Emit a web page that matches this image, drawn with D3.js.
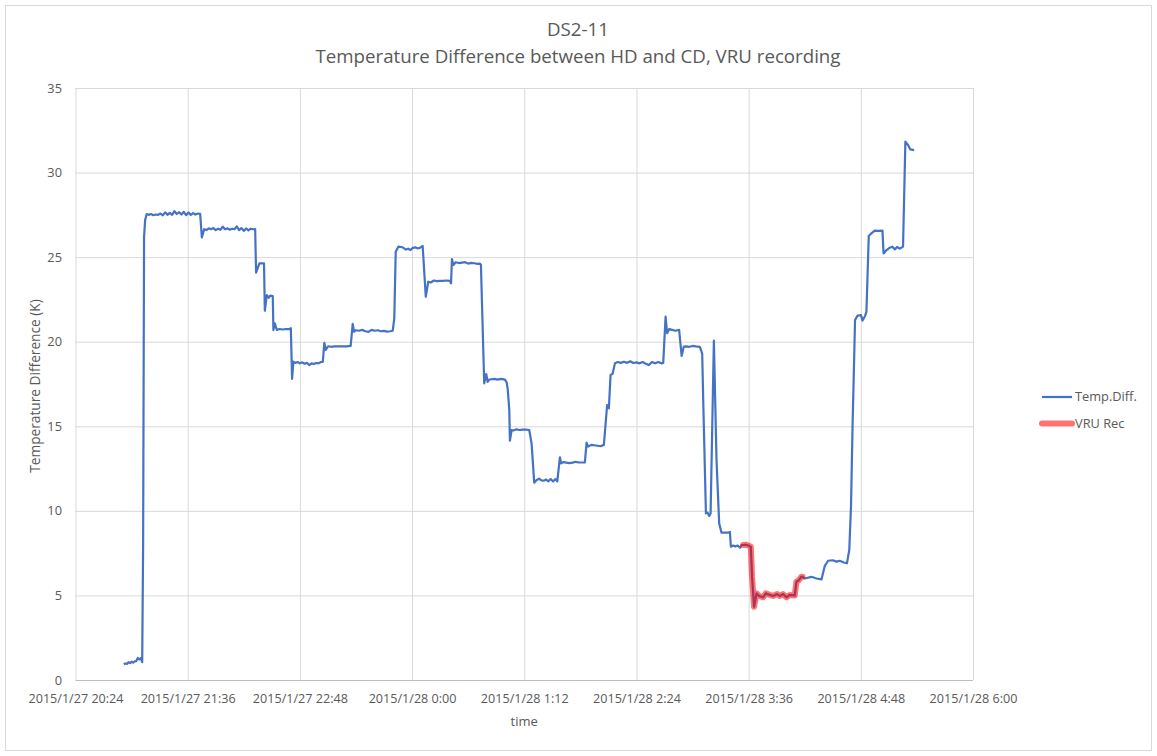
<!DOCTYPE html>
<html>
<head>
<meta charset="utf-8">
<script src="https://cdn.jsdelivr.net/npm/d3@7"></script>
<style>
  body { margin: 0; background: #fff; }
  text { font-family: "Open Sans", "DejaVu Sans", sans-serif; fill: #595959; }
</style>
</head>
<body>
<div id="chart"></div>
<script>
// chart texts
const titleLines = ["DS2-11", "Temperature Difference between HD and CD, VRU recording"];
const yTitle = "Temperature Difference (K)";
const xTitle = "time";
const seriesNames = ["Temp.Diff.", "VRU Rec"];

// x axis tick labels (every 72 minutes) and y ticks
const xTickLabels = ["2015/1/27 20:24", "2015/1/27 21:36", "2015/1/27 22:48", "2015/1/28 0:00",
  "2015/1/28 1:12", "2015/1/28 2:24", "2015/1/28 3:36", "2015/1/28 4:48", "2015/1/28 6:00"];
const yTicks = [0, 5, 10, 15, 20, 25, 30, 35];

// VRU recording window, minutes after 20:24
const vruWindow = [428.5, 466.6];

// temperature difference: [minutes after 2015/1/27 20:24, K]
const tempDiff = [
  [31,0.92],[32,0.98],[33,0.95],[34,1.05],[35,1.0],[36,1.08],[37,1.03],[38,1.1],[39,1.12],
  [40,1.3],[41,1.22],[42,1.3],[42.8,1.05],[43.4,8.0],[44,26.2],[44.7,27.2],[45.7,27.55],
  [47,27.5],[48.5,27.55],[50,27.48],[51.5,27.52],[53,27.5],[54.5,27.58],[56,27.47],[57.5,27.65],
  [59,27.5],[60.5,27.62],[62,27.5],[63.5,27.72],[65,27.55],[66.5,27.66],[68,27.52],[69.5,27.68],
  [71,27.48],[72.5,27.64],[74,27.5],[75.5,27.6],[77,27.52],[78.5,27.58],[80,27.56],
  [81.1,26.17],[82.6,26.65],
  [84,26.6],[85.5,26.7],[87,26.65],[88.5,26.72],[90,26.6],[91.5,26.68],[93,26.62],[94.5,26.8],
  [96,26.65],[97.5,26.7],[99,26.62],[100.5,26.68],[102,26.65],[103.5,26.82],[105,26.6],[106.5,26.72],
  [108,26.55],[109.5,26.7],[111,26.58],[112.5,26.68],[114,26.65],[115.3,26.66],
  [115.9,24.08],[118,24.63],[121,24.63],[121.5,21.83],[122.8,22.76],[124,22.6],[125,22.72],[126.6,22.7],
  [127,20.69],[127.9,21.09],[129.2,20.7],[131,20.75],[133,20.72],[135,20.75],[137.3,20.75],[138.2,20.8],
  [139,17.8],[139.8,18.82],
  [141,18.75],[142.5,18.8],[144,18.72],[145.5,18.78],[147,18.7],[148.5,18.75],[150,18.62],[151.5,18.72],
  [153,18.68],[154.5,18.74],[156,18.72],[157.5,18.8],[158.7,18.8],
  [159.7,19.94],[160.6,19.51],[162.1,19.73],[164,19.7],[166,19.72],[168,19.72],[170,19.73],[172,19.72],
  [174,19.73],[176.6,19.75],
  [177.9,21.05],[178.8,20.59],[180,20.68],[182,20.65],[184,20.7],[186,20.62],[188,20.58],[190,20.7],
  [192,20.65],[194,20.68],[196,20.62],[198,20.64],[200,20.6],[202,20.62],[203.6,20.65],
  [204.6,21.38],[205.5,25.32],[207.2,25.62],[209,25.6],[210.5,25.55],[212,25.45],[213.5,25.5],
  [215,25.42],[216.5,25.55],[218,25.58],[219.5,25.52],[221,25.55],[222.8,25.66],
  [224.8,22.66],[226.4,23.55],[228,23.5],[230,23.62],[232,23.58],[234,23.6],[236,23.6],[238,23.62],
  [240.3,23.6],[241,23.45],
  [241.6,24.89],[242.5,24.54],[244,24.7],[246,24.65],[248,24.68],[250,24.7],[252,24.62],[254,24.66],
  [256,24.64],[258,24.6],[259.6,24.62],[260.2,24.54],
  [262.3,17.54],[263.6,18.09],[264.5,17.63],[265.4,17.75],[267,17.78],[269,17.8],[271,17.76],
  [273,17.8],[275.6,17.76],[276.7,17.6],[277.4,17.2],[278.4,15.96],[278.8,14.15],[279.9,14.78],
  [281,14.75],[283,14.82],[285,14.78],[287,14.8],[289,14.8],[291.2,14.78],
  [292.7,13.99],[294.4,11.67],[296,11.82],[297.5,11.9],[299,11.8],[300.5,11.78],[302,11.85],
  [303.5,11.75],[305,11.88],[306.5,11.74],[308,11.88],[309.2,11.74],
  [310.9,13.17],[311.7,12.81],[313,12.88],[315,12.85],[317,12.82],[319,12.85],[321,12.9],[323,12.86],
  [325,12.86],[326.9,12.86],
  [328,14.03],[329,13.8],[331,13.9],[333,13.88],[335,13.85],[337,13.82],[339.1,13.9],
  [341.2,16.26],[342.3,16.06],[343.4,18.03],[344.7,18.1],[346.2,18.72],
  [348,18.8],[350,18.75],[352,18.82],[354,18.75],[356,18.84],[358,18.74],[360,18.78],[362,18.72],
  [364,18.8],[366,18.7],[368,18.62],[370,18.8],[372,18.72],[374,18.8],[376,18.72],[377.2,18.75],
  [378.7,21.48],[379.7,20.5],[381,20.75],[383,20.7],[385,20.65],[387.4,20.7],
  [389,19.16],[390.4,19.71],[392,19.72],[394,19.7],[396,19.75],[398,19.72],[400.7,19.7],
  [402.2,19.3],[403,16.0],[404.6,9.85],[405.6,9.9],[406.7,9.7],[407.6,9.85],
  [409.7,20.06],[411.4,13.0],[413.1,9.26],[414.6,8.71],[418.9,8.71],[420,8.75],[420.6,7.88],
  [422,7.95],[423.5,7.9],[425,7.95],[426.5,7.82],[427.5,7.98],
  [428.5,7.98],[430.2,8.0],[431.8,7.95],[433.4,7.88],[434.2,6.11],[435.5,4.33],[437.1,5.12],
  [438.7,4.97],[441.3,4.89],[443,5.12],[445.6,5.03],[447.7,4.97],[450.3,5.08],[452,4.97],
  [454.1,5.08],[456.3,4.89],[458.4,5.03],[461.6,5.0],[462.7,5.81],[464.2,5.9],[465.9,6.11],[466.6,6.1],
  [468,6.0],[472.3,6.1],[475.6,6.0],[478.8,5.95],[480.9,6.75],[483,7.05],[486,7.08],[488.4,7.0],
  [490.5,7.05],[493.1,6.95],[495.1,6.9],[496.6,7.69],[497.7,10.25],[498.7,14.98],[500.3,21.28],
  [501.9,21.54],[504.1,21.57],[505.1,21.25],[506.8,21.54],[507.6,21.78],
  [509.1,26.25],[510.8,26.41],[512.9,26.57],[514.8,26.55],[517.9,26.57],
  [518.6,25.22],[520.5,25.42],[522.6,25.56],[524.3,25.62],[525.8,25.46],[527.3,25.6],[529,25.5],
  [531.1,25.62],[532.6,31.83],[534.3,31.63],[535.8,31.37],[538.2,31.33]
];

const W = 1157, H = 756;
const plot = {left: 75.5, right: 973, top: 88, bottom: 680};

const parseTick = d3.timeParse("%Y/%m/%d %H:%M");
const fmtTick = d3.timeFormat("%Y/%-m/%-d %-H:%M");
const tickDates = xTickLabels.map(parseTick);
const t0 = tickDates[0];
const toDate = m => new Date(t0.getTime() + m * 60000);

const svg = d3.select("#chart").append("svg")
  .attr("width", W).attr("height", H);

// chart border
svg.append("rect")
  .attr("x", 5.5).attr("y", 5.5).attr("width", 1146).attr("height", 745)
  .attr("fill", "#fff").attr("stroke", "#d9d9d9");

const x = d3.scaleTime()
  .domain([tickDates[0], tickDates[tickDates.length - 1]])
  .range([plot.left, plot.right]);
const y = d3.scaleLinear()
  .domain([0, 35])
  .range([plot.bottom, plot.top]);

// gridlines
svg.append("g")
  .attr("transform", `translate(0,${plot.bottom})`)
  .call(d3.axisBottom(x).tickValues(tickDates).tickSize(-(plot.bottom - plot.top)).tickFormat(""))
  .call(g => g.select(".domain").remove())
  .call(g => g.selectAll(".tick line").attr("stroke", "#d9d9d9"));

svg.append("g")
  .attr("transform", `translate(${plot.left},0)`)
  .call(d3.axisLeft(y).tickValues(yTicks).tickSize(-(plot.right - plot.left)).tickFormat(""))
  .call(g => g.select(".domain").remove())
  .call(g => g.selectAll(".tick line").attr("stroke", d => d === 0 ? "#bfbfbf" : "#d9d9d9"));

// tick labels
svg.append("g")
  .attr("transform", `translate(0,${plot.bottom})`)
  .call(d3.axisBottom(x).tickValues(tickDates).tickSize(0).tickPadding(14).tickFormat(fmtTick))
  .call(g => g.select(".domain").remove())
  .call(g => g.selectAll("text").style("font-size", "12.6px").attr("fill", "#595959"));

svg.append("g")
  .attr("transform", `translate(${plot.left},0)`)
  .call(d3.axisLeft(y).tickValues(yTicks).tickSize(0).tickPadding(13.5))
  .call(g => g.select(".domain").remove())
  .call(g => g.selectAll("text").style("font-size", "12.8px").attr("fill", "#595959"));

// titles
svg.selectAll(".title").data(titleLines).enter().append("text")
  .attr("class", "title")
  .attr("x", 578).attr("y", (d, i) => 36 + i * 27)
  .attr("text-anchor", "middle")
  .style("font-size", "18.7px")
  .text(d => d);

svg.append("text")
  .attr("transform", `translate(40,${(plot.top + plot.bottom) / 2 + 2}) rotate(-90)`)
  .attr("text-anchor", "middle")
  .style("font-size", "13.7px")
  .text(yTitle);

svg.append("text")
  .attr("x", (plot.left + plot.right) / 2).attr("y", 726)
  .attr("text-anchor", "middle")
  .style("font-size", "13px")
  .text(xTitle);

const line = d3.line()
  .x(d => x(toDate(d[0])))
  .y(d => y(d[1]));

svg.append("path")
  .datum(tempDiff)
  .attr("d", line)
  .attr("fill", "none")
  .attr("stroke", "#4472C4")
  .attr("stroke-width", 2.2)
  .attr("stroke-linejoin", "round");

const vru = tempDiff.filter(d => d[0] >= vruWindow[0] && d[0] <= vruWindow[1]);
svg.append("path")
  .datum(vru)
  .attr("d", line)
  .attr("fill", "none")
  .attr("stroke", "#FF0000")
  .attr("stroke-opacity", 0.55)
  .attr("stroke-width", 6)
  .attr("stroke-linejoin", "round")
  .attr("stroke-linecap", "round");

// legend
const legend = svg.append("g").attr("transform", "translate(1042,397)");
const legendStyles = [
  {stroke: "#4472C4", width: 2.2, opacity: 1},
  {stroke: "#FF0000", width: 6, opacity: 0.55}
];
seriesNames.forEach((name, i) => {
  const g = legend.append("g").attr("transform", `translate(0,${i * 26.5})`);
  g.append("line")
    .attr("x1", 0).attr("x2", 30)
    .attr("stroke", legendStyles[i].stroke)
    .attr("stroke-width", legendStyles[i].width)
    .attr("stroke-opacity", legendStyles[i].opacity)
    .attr("stroke-linecap", i === 1 ? "round" : "butt");
  g.append("text")
    .attr("x", 33).attr("dy", "0.35em")
    .style("font-size", "12.8px")
    .text(name);
});
</script>
</body>
</html>
